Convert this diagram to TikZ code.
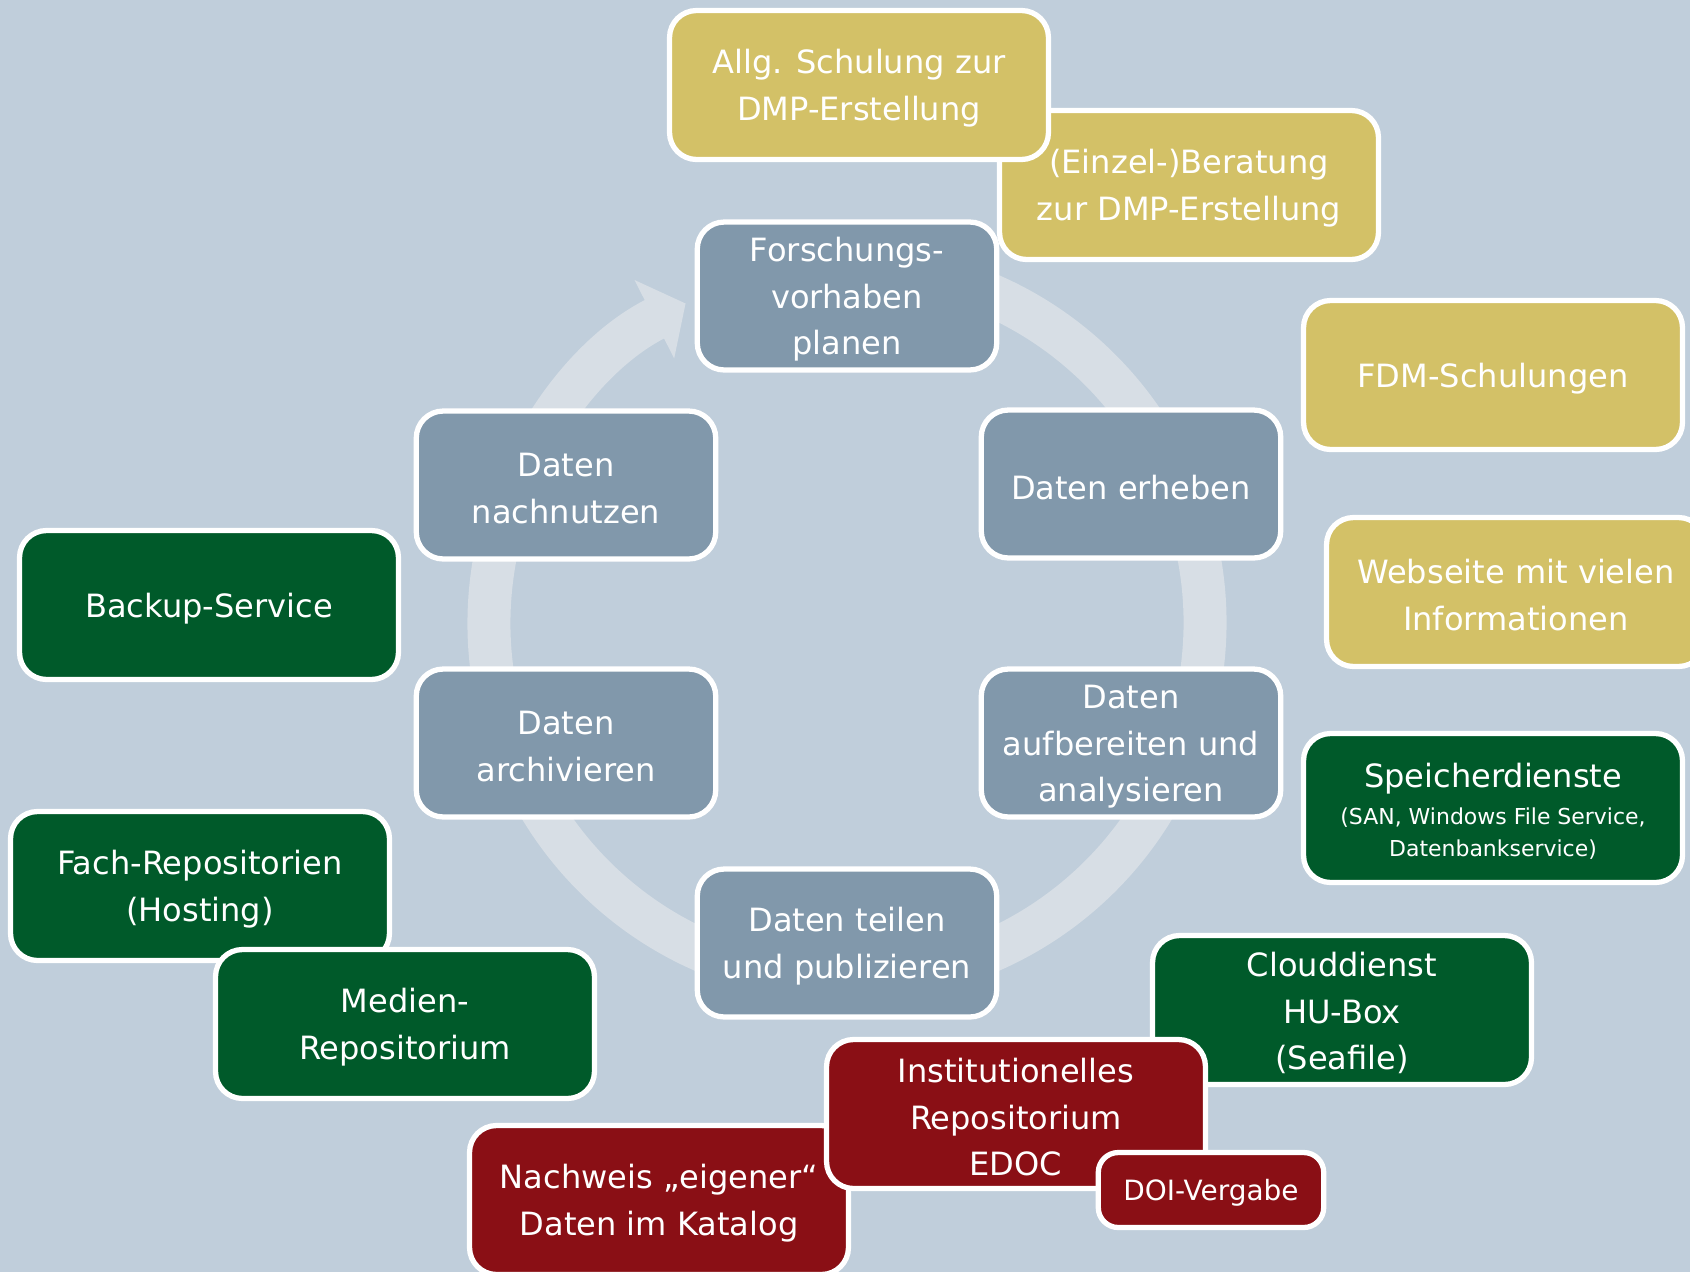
\documentclass[tikz,border=0pt]{standalone}
\usepackage{fontspec}
\setmainfont{DejaVu Sans}
\usetikzlibrary{arrows.meta}

\definecolor{bgblue}{HTML}{C0CEDB}
\definecolor{ringgrey}{HTML}{D7DEE5}
\definecolor{phasegrey}{HTML}{8198AB}
\definecolor{offeryellow}{HTML}{D3C167}
\definecolor{servicegreen}{HTML}{005A2A}
\definecolor{pubred}{HTML}{8A0F15}

\newcommand{\smalltxt}{\fontsize{12.5}{17.6}\selectfont}
\newcommand{\topstrut}{\rule{0pt}{0.96em}}

\begin{document}
\begin{tikzpicture}[x=0.02cm, y=-0.02cm,
    every node/.style={rounded corners=0.54cm, draw=white, line width=3pt, text=white,
        align=center, inner sep=0pt, font=\fontsize{18.25}{26.5}\selectfont},
    phase/.style={fill=phasegrey, minimum width=5.99cm, minimum height=2.96cm},
    offer/.style={minimum width=7.58cm, minimum height=2.98cm}]
    % Background and canvas
    \useasboundingbox (0,0) rectangle (1690,1272);
    \fill[bgblue] (0,0) rectangle (1690,1272);
    \clip (0,0) rectangle (1690,1272);

    % Cycle ring with arrow
    \coordinate (ringc) at (847,623);
    \begin{scope}[shift={(ringc)}, y=0.02cm]
        \draw[ringgrey, line width=0.86cm, -{Triangle[width=1.72cm, length=0.7cm]}]
            (80:358) arc[start angle=80, end angle=-243.2, radius=358];
    \end{scope}

    % Phases of the research data life cycle
    \node[phase] (planen) at (847,296) {\topstrut Forschungs-\\vorhaben\\planen};
    \node[phase] (erheben) at (1131,484) {\topstrut Daten erheben};
    \node[phase] (aufbereiten) at (1131,743) {\topstrut Daten\\aufbereiten und\\analysieren};
    \node[phase] (teilen) at (847,943) {\topstrut Daten teilen\\und publizieren};
    \node[phase] (archivieren) at (566,743) {\topstrut Daten\\archivieren};
    \node[phase] (nachnutzen) at (566,485) {\topstrut Daten\\nachnutzen};

    % Training and consulting
    \node[offer, fill=offeryellow] (einzel) at (1189,185) {\topstrut (Einzel-)Beratung\\zur DMP-Erstellung};
    \node[offer, fill=offeryellow] (allg) at (859,85) {\topstrut Allg. Schulung zur\\DMP-Erstellung};
    \node[offer, fill=offeryellow] (fdm) at (1493,375) {\topstrut FDM-Schulungen};
    \node[offer, fill=offeryellow] (webseite) at (1516,592) {\topstrut Webseite mit vielen\\Informationen};

    % Storage and repository services
    \node[offer, fill=servicegreen] (backup) at (209,605) {\topstrut Backup-Service};
    \node[offer, fill=servicegreen] (speicher) at (1493,808)
        {\topstrut Speicherdienste\\[-5.3pt]{\smalltxt (SAN, Windows File Service,}\\[-8.2pt]{\smalltxt Datenbankservice)}};
    \node[offer, fill=servicegreen] (fach) at (200,886) {\topstrut Fach-Repositorien\\(Hosting)};
    \node[offer, fill=servicegreen] (medien) at (405,1024) {\topstrut Medien-\\Repositorium};
    \node[offer, fill=servicegreen] (cloud) at (1342,1010) {\topstrut Clouddienst\\HU-Box\\(Seafile)};

    % Publication services
    \node[offer, fill=pubred] (nachweis) at (659,1200) {\topstrut Nachweis „eigener“\\Daten im Katalog};
    \node[offer, fill=pubred] (inst) at (1016,1114) {\topstrut Institutionelles\\Repositorium\\EDOC};
    \node[fill=pubred, minimum width=4.51cm, minimum height=1.50cm, rounded corners=0.4cm,
        font=\fontsize{15.9}{18}\selectfont] (doi) at (1211,1190) {\topstrut DOI-Vergabe};
\end{tikzpicture}
\end{document}
